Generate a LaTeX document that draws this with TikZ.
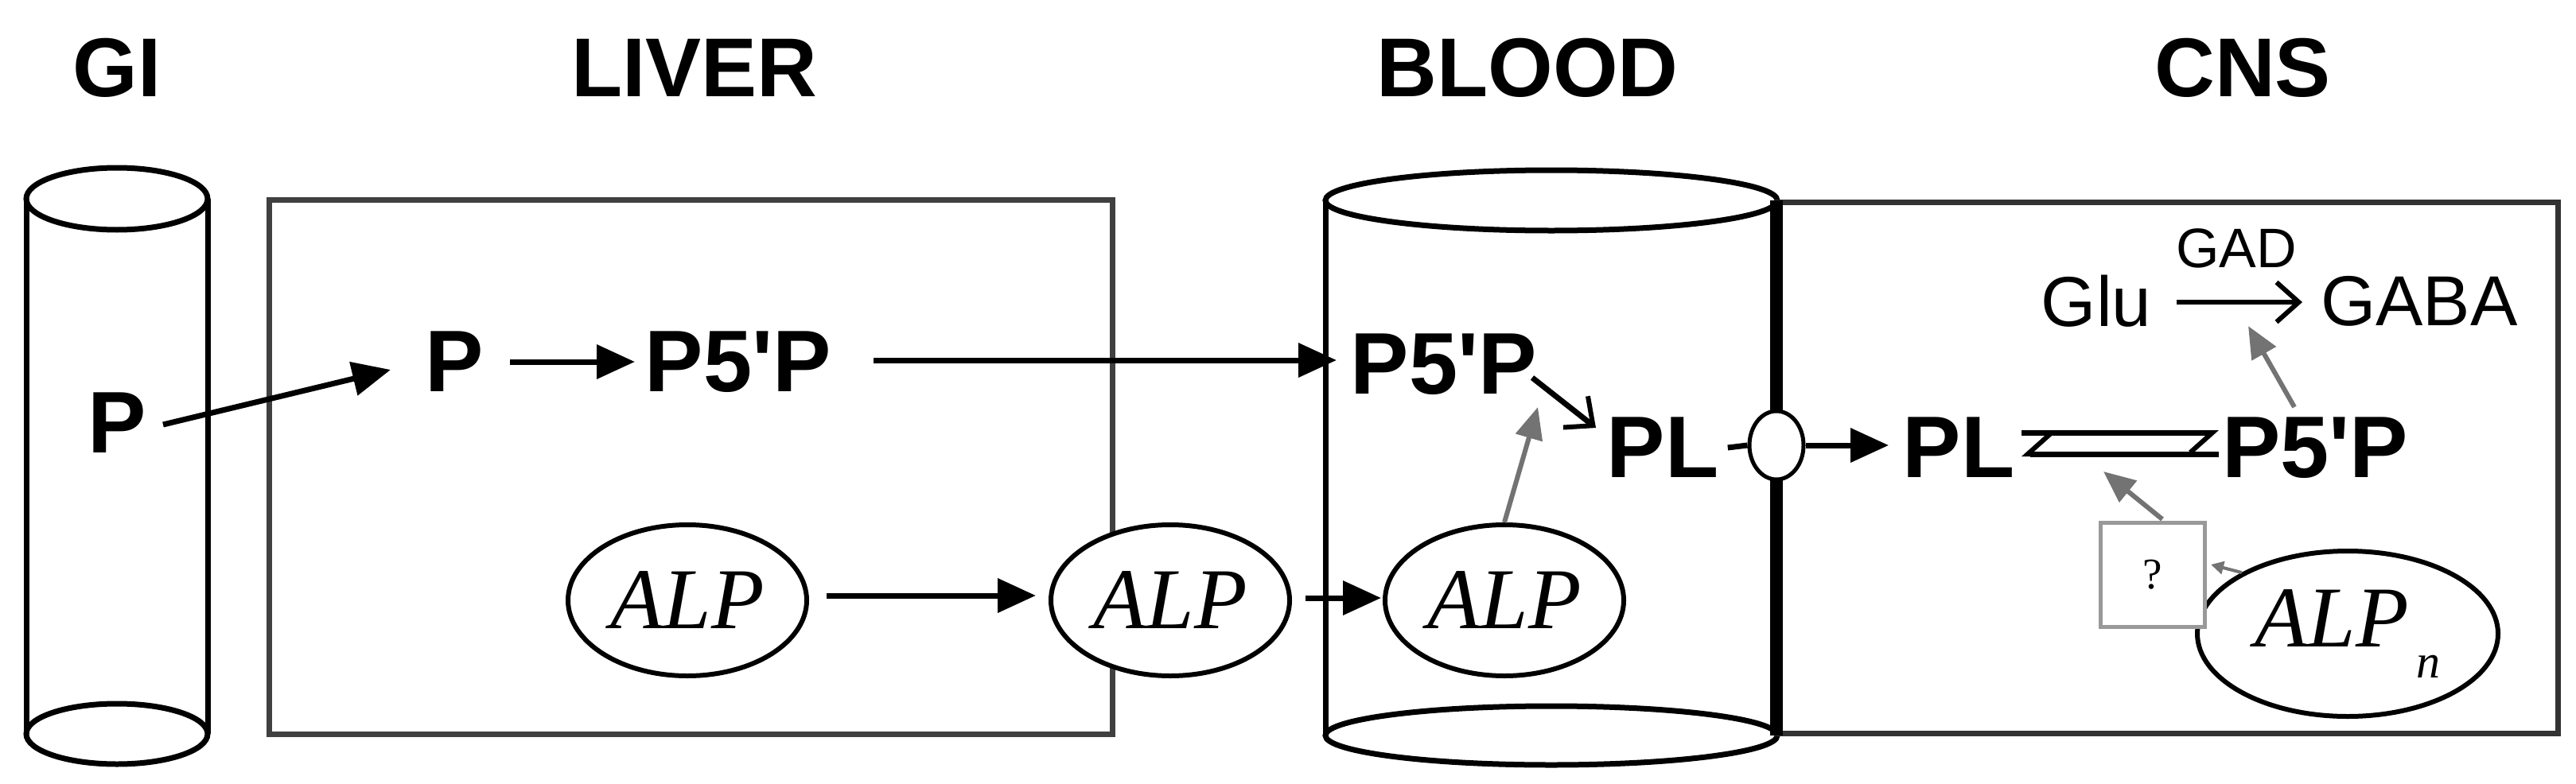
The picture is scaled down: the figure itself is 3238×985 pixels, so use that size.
\documentclass[tikz,border=0pt]{standalone}
\usepackage{fontspec}
\setmainfont{Liberation Sans}
\newfontfamily\serifit{Liberation Serif}
\usetikzlibrary{arrows.meta,shapes.geometric}
\newcommand{\pfp}{P5\textquotesingle P}
\begin{document}
\begin{tikzpicture}[x=1pt,y=-1pt,line width=7pt,
  ttl/.style={font=\fontsize{105}{110}\selectfont\bfseries},
  mol/.style={font=\fontsize{110}{115}\selectfont\bfseries,inner sep=0pt},
  reg/.style={font=\fontsize{89}{95}\selectfont,inner sep=0pt},
  enz/.style={draw,ellipse,line width=6pt,fill=white,minimum width=300pt,minimum height=190pt,inner sep=0pt,font=\serifit\itshape\fontsize{109}{115}\selectfont},
  fa/.style={-{Triangle[length=48pt,width=42pt]},line width=7pt},
  ga/.style={-{Triangle[length=40pt,width=34pt]},line width=6pt,draw=black!55,fill=black!55},
  oa/.style={-{Straight Barb[length=28pt,width=50pt,line width=6pt]},line width=7pt},
  hp/.style={line width=7pt}]
\useasboundingbox (0,0) rectangle (3238,985);
% titles
\node[ttl] (tGI) at (147,85) {GI};
\node[ttl] (tLI) at (873,85) {LIVER};
\node[ttl] (tBL) at (1920,85) {BLOOD};
\node[ttl] (tCN) at (2819,85) {CNS};
% GI cylinder
\draw (33,250) -- (33,923) (261,250) -- (261,923);
\draw (147,250) ellipse [x radius=114,y radius=39];
\draw (147,923) ellipse [x radius=114,y radius=38];
% liver box
\draw[draw=black!75] (338,251) rectangle (1398,923);
% blood cylinder
\draw (1666,252) -- (1666,925);
\draw (1950,252) ellipse [x radius=284,y radius=38];
\draw (1950,925) ellipse [x radius=284,y radius=37];
% CNS box
\draw[draw=black!80] (2233,254) rectangle (3215,922);
\draw[line width=16pt] (2233,252) -- (2233,925);
% nodes
\node[mol] (pgi) at (147,532) {P};
\node[mol] (pli) at (571,455) {P};
\node[mol] (p5li) at (928,455) {\pfp};
\node[mol] (p5bl) at (1815,458) {\pfp};
\node[mol] (plbl) at (2090,563) {PL};
\node[draw,ellipse,line width=5pt,minimum width=68pt,minimum height=86pt,inner sep=0pt,fill=white] (tr) at (2233,560) {};
\node[mol] (plcn) at (2462,563) {PL};
\node[mol] (p5cn) at (2910,563) {\pfp};
\node[reg] (glu) at (2635,379) {Glu};
\node[reg] (gaba) at (3041,379) {GABA};
\node[font=\fontsize{70}{74}\selectfont,inner sep=0pt] (gad) at (2811,312) {GAD};
\node[enz] (alpli) at (864,755) {ALP};
\node[enz] (alpe) at (1471,755) {ALP};
\node[enz] (alpbl) at (1891,755) {ALP};
\node[enz,minimum width=378pt,minimum height=208pt] (alpn) at (2951,797) {ALP\raisebox{-0.35em}{\fontsize{60}{60}\selectfont\,\itshape n}};
\node[draw=black!40,line width=5pt,minimum width=131pt,minimum height=131pt,inner sep=0pt,fill=white,font=\serifit\fontsize{55}{60}\selectfont] (q) at (2706,723) {?};
% connectors
\coordinate (a1) at (205,534);
\draw[fa] (a1) -- (491,465);
\draw[fa] (pli.east) ++(30,0) coordinate (a2) -- (798,455);
\coordinate (a3) at (1098,453);
\draw[fa] (a3) -- (1680,453);
\draw[oa] (1926,475) -- (2006,538);
\draw[ga] (alpbl.north) -- (1933,512);
\draw[fa] (alpli.east) ++(22,-6) coordinate (a4) -- (1302,749);
\draw[fa] (alpe.east) ++(17,-3) coordinate (a5) -- (1736,752);
\draw (plbl.east) ++(8,0) coordinate (a6) -- (tr.west);
\draw[fa] (tr.east) -- (2374,560);
\draw[hp,-{Straight Barb[harpoon,swap,length=28pt,width=50pt,line width=6pt]}] (2541,544) -- (2789,544);
\draw[hp,{Straight Barb[harpoon,swap,length=28pt,width=50pt,line width=6pt]}-] (2541,571) -- (2789,571);
\draw[oa,line width=6pt] (2736,380) -- (2894,380);
\draw[ga] (2884,512) -- (2826,410);
\draw[ga] (q.north) ++(12,-2) coordinate (a7) -- (2644,593);
\draw[ga,line width=4pt,-{Triangle[length=16pt,width=16pt]}] (alpn.150) -- (2779,710);
\end{tikzpicture}
\end{document}
